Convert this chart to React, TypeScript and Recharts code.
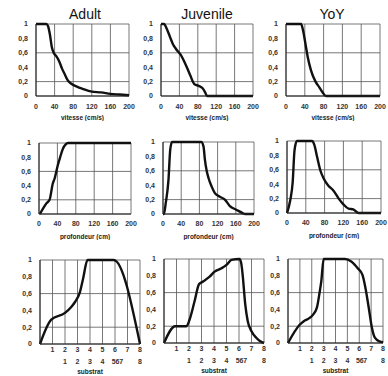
import React from 'react';
import { LineChart, Line, XAxis, YAxis, CartesianGrid } from 'recharts';

const yTicks = [0, 0.2, 0.4, 0.6, 0.8, 1];
const cmTicks = [0, 40, 80, 120, 160, 200];
const substrateTicks = [1, 2, 3, 4, 5, 6, 7, 8];
const substrateCodeTicks = [2, 3, 4, 5, 5.9, 6.2, 6.5, 8];
const substrateCodeLabels = ['1', '2', '3', '4', '5', '6', '7', '8'];

// vitesse (cm/s)
const adultSpeedX = [0, 22, 26, 30, 34, 38, 44, 50, 56, 62, 68, 76, 88, 100, 120, 140, 160, 180, 200];
const adultSpeedY = [1, 1, 0.97, 0.85, 0.68, 0.6, 0.55, 0.48, 0.38, 0.3, 0.22, 0.17, 0.13, 0.1, 0.06, 0.05, 0.03, 0.02, 0.01];
const juvSpeedX = [0, 7, 12, 19, 26, 33, 43, 54, 64, 72, 82, 90, 96, 100, 200];
const juvSpeedY = [1, 1, 0.94, 0.83, 0.72, 0.65, 0.57, 0.43, 0.28, 0.17, 0.14, 0.11, 0.05, 0, 0];
const yoySpeedX = [0, 32, 36, 41, 46, 53, 62, 71, 78, 85, 200];
const yoySpeedY = [1, 1, 0.92, 0.74, 0.55, 0.36, 0.21, 0.12, 0.05, 0, 0];

// profondeur (cm)
const adultDepthX = [2, 9, 16, 23, 30, 34, 41, 46, 52, 58, 63, 200];
const adultDepthY = [0, 0.08, 0.15, 0.2, 0.43, 0.5, 0.69, 0.8, 0.92, 0.98, 1, 1];
const juvDepthX = [0, 2, 6, 12, 16, 20, 84, 89, 92, 96, 100, 107, 114, 125, 136, 147, 161, 176, 180, 200];
const juvDepthY = [0, 0, 0.15, 0.47, 0.9, 1, 1, 0.94, 0.76, 0.6, 0.5, 0.38, 0.29, 0.24, 0.2, 0.11, 0.06, 0.01, 0, 0];
const yoyDepthX = [0, 7, 12, 16, 21, 53, 58, 64, 71, 78, 88, 99, 110, 120, 131, 141, 152, 200];
const yoyDepthY = [0, 0.18, 0.42, 0.87, 1, 1, 0.95, 0.78, 0.59, 0.48, 0.38, 0.31, 0.2, 0.12, 0.06, 0.05, 0, 0];

// substrat
const adultSubX = [0, 0.9, 2, 2.5, 2.8, 3.2, 3.45, 3.8, 5.9, 8];
const adultSubY = [0, 0.29, 0.37, 0.44, 0.5, 0.62, 0.78, 1, 1, 0];
const juvSubX = [0, 0.9, 1.8, 2.05, 2.45, 2.8, 3.1, 3.65, 4.05, 4.6, 5, 5.4, 6.05, 6.2, 6.3, 6.5, 6.7, 7, 7.4, 7.7, 8];
const juvSubY = [0, 0.2, 0.2, 0.28, 0.5, 0.7, 0.73, 0.79, 0.85, 0.89, 0.93, 0.99, 1, 0.93, 0.8, 0.46, 0.26, 0.14, 0.06, 0.02, 0];
const yoySubX = [0, 1, 1.33, 1.73, 2.13, 2.45, 2.67, 2.8, 3, 4.8, 5.33, 5.87, 6.27, 6.53, 6.8, 7.07, 7.33, 7.7, 8];
const yoySubY = [0, 0.22, 0.26, 0.29, 0.34, 0.43, 0.61, 0.73, 1, 1, 0.97, 0.89, 0.81, 0.65, 0.42, 0.18, 0.06, 0.02, 0.01];

const titles = ['Adult', 'Juvenile', 'YoY'];
const titleCenters = [85, 207, 332];

const font = '"Liberation Sans", Arial, sans-serif';
const tickStyle = { fontSize: 7, fontWeight: 700, fill: '#333', fontFamily: font };
const labelStyle = { fontSize: 6.5, fontWeight: 700, fill: '#222', fontFamily: font };
const fmtY = (v: number) => String(v).replace('.', ',');

type PanelProps = {
  xs: number[];
  ys: number[];
  left: number;
  top: number;
  w: number;
  h: number;
  max: number;
  ticks: number[];
  name: string;
  axisH: number;
  tickOff: number;
  sub?: boolean;
};

function Panel({ xs, ys, left, top, w, h, max, ticks, name, axisH, tickOff, sub }: PanelProps) {
  const data = xs.map((x, i) => ({ x, y: ys[i] }));
  const yw = 30;
  const mt = 5;
  const mr = 9;
  const total = sub ? 13 + 17 : axisH;
  const width = yw + w + mr;
  const height = mt + h + total + 1;
  const label = { value: name, position: 'insideBottom' as const, offset: 0, fill: '#222', style: labelStyle };
  return (
    <div style={{ position: 'absolute', left: left - yw, top: top - mt }}>
      <LineChart width={width} height={height} data={data} margin={{ top: mt, right: mr, bottom: 1, left: 0 }}>
        <CartesianGrid stroke="#555" strokeWidth={0.8} />
        <XAxis
          dataKey="x"
          type="number"
          domain={[0, max]}
          ticks={ticks}
          interval={0}
          height={sub ? 13 : axisH}
          tickLine={false}
          tickSize={sub ? 0 : tickOff - 2}
          tickMargin={sub ? 3 : 2}
          axisLine={{ stroke: '#222', strokeWidth: 1 }}
          tick={tickStyle}
          label={sub ? undefined : label}
        />
        {sub && (
          <XAxis
            xAxisId="b"
            dataKey="x"
            type="number"
            domain={[0, max]}
            ticks={substrateCodeTicks}
            interval={0}
            height={17}
            tickLine={false}
            axisLine={false}
            tickSize={0}
            tickMargin={2}
            tick={tickStyle}
            tickFormatter={(v: number) => substrateCodeLabels[substrateCodeTicks.indexOf(v)] ?? ''}
            label={label}
          />
        )}
        <YAxis
          type="number"
          domain={[0, 1]}
          ticks={yTicks}
          width={yw}
          tickLine={false}
          tickSize={6}
          tickMargin={2}
          axisLine={{ stroke: '#222', strokeWidth: 1 }}
          tick={tickStyle}
          tickFormatter={fmtY}
        />
        <Line
          type="monotone"
          dataKey="y"
          stroke="#111"
          strokeWidth={2.4}
          dot={false}
          isAnimationActive={false}
        />
      </LineChart>
    </div>
  );
}

export default function App() {
  return (
    <div style={{ position: 'fixed', left: 0, top: 0, width: 388, height: 376, overflow: 'hidden', background: '#fff' }}>
      {titles.map((t, i) => (
        <div
          key={t}
          style={{
            position: 'absolute',
            left: titleCenters[i] - 50,
            width: 100,
            top: 6,
            textAlign: 'center',
            fontFamily: font,
            fontSize: 14,
            lineHeight: '16px',
            color: '#111',
          }}
        >
          {t}
        </div>
      ))}
      <Panel xs={adultSpeedX} ys={adultSpeedY} left={36} top={24} w={93} h={72} max={200} ticks={cmTicks} name="vitesse (cm/s)" axisH={24} tickOff={8} />
      <Panel xs={juvSpeedX} ys={juvSpeedY} left={161} top={24} w={92} h={72} max={200} ticks={cmTicks} name="vitesse (cm/s)" axisH={24} tickOff={8} />
      <Panel xs={yoySpeedX} ys={yoySpeedY} left={286} top={24} w={94} h={72} max={200} ticks={cmTicks} name="vitesse (cm/s)" axisH={24} tickOff={8} />

      <Panel xs={adultDepthX} ys={adultDepthY} left={39} top={143} w={92} h={71} max={200} ticks={cmTicks} name="profondeur (cm)" axisH={25} tickOff={7} />
      <Panel xs={juvDepthX} ys={juvDepthY} left={163} top={142} w={91} h={72} max={200} ticks={cmTicks} name="profondeur (cm)" axisH={25} tickOff={7} />
      <Panel xs={yoyDepthX} ys={yoyDepthY} left={287} top={141} w={94} h={72} max={200} ticks={cmTicks} name="profondeur (cm)" axisH={25} tickOff={7} />

      <Panel xs={adultSubX} ys={adultSubY} left={40} top={260} w={100} h={84} max={8} ticks={substrateTicks} name="substrat" axisH={30} tickOff={3} sub />
      <Panel xs={juvSubX} ys={juvSubY} left={164} top={259} w={100} h={84} max={8} ticks={substrateTicks} name="substrat" axisH={30} tickOff={3} sub />
      <Panel xs={yoySubX} ys={yoySubY} left={288} top={259} w={95} h={84} max={8} ticks={substrateTicks} name="substrat" axisH={30} tickOff={3} sub />
    </div>
  );
}
